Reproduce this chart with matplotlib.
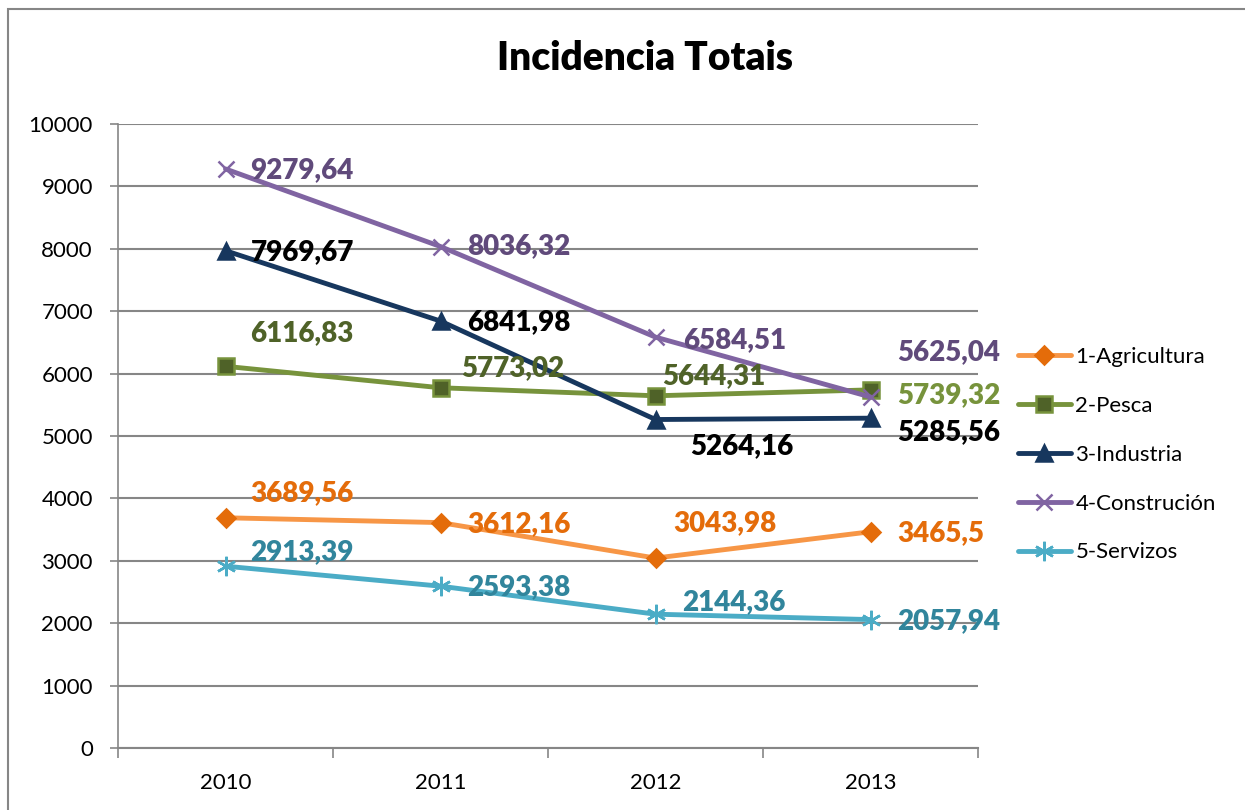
import matplotlib.pyplot as plt
from matplotlib.patches import Rectangle

plt.rcParams['font.family'] = ['Lato', 'DejaVu Sans']

years = ['2010', '2011', '2012', '2013']
agricultura = [3689.56, 3612.16, 3043.98, 3465.5]
pesca = [6116.83, 5773.02, 5644.31, 5739.32]
industria = [7969.67, 6841.98, 5264.16, 5285.56]
construcion = [9279.64, 8036.32, 6584.51, 5625.04]
servizos = [2913.39, 2593.38, 2144.36, 2057.94]

names = ['1-Agricultura', '2-Pesca', '3-Industria', '4-Construción', '5-Servizos']

# line colour, marker, marker face, marker edge, marker size, label colour
styles = [
    ('#F79646', 'D', '#E46C0A', '#E46C0A', 9, '#E46C0A'),
    ('#77933C', 's', '#4F6228', '#77933C', 11, '#4F6228'),
    ('#17375E', '^', '#17375E', '#17375E', 12, '#000000'),
    ('#8064A2', 'x', '#8064A2', '#8064A2', 12, '#604A7B'),
    ('#4BACC6', (6, 2, 0), '#4BACC6', '#4BACC6', 14, '#31859C'),
]

# label offsets in points (dx, dy) per series per year
offsets = [
    [(18, 18), (19, -1), (13, 25), (19, -1)],
    [(18, 24), (15, 14), (5, 14), (19, -4)],
    [(18, -1), (19, -1), (25, -19), (19, -10)],
    [(18, -1), (19, 0), (20, -2), (19, 32)],
    [(18, 10), (19, -1), (19, 9), (19, -1)],
]
label_colors_override = {(1, 3): '#77933C'}

fig = plt.figure(figsize=(12.45, 8.10), dpi=100)
fig.patches.append(Rectangle((8 / 1245, -0.1), 1.1, (810 - 9) / 810 + 0.1,
                             transform=fig.transFigure, fill=False,
                             edgecolor='#868686', linewidth=1.5))
ax = fig.add_axes([118 / 1245, 1 - 748 / 810, 860 / 1245, 624 / 810])

x = range(len(years))
series = [agricultura, pesca, industria, construcion, servizos]
for i, (vals, name, st) in enumerate(zip(series, names, styles)):
    lc, mk, mfc, mec, ms, tc = st
    ax.plot(x, vals, color=lc, linewidth=3.5, marker=mk, markersize=ms,
            markerfacecolor=mfc, markeredgecolor=mec, markeredgewidth=1.8,
            label=name, solid_capstyle='round')
    for j, v in enumerate(vals):
        txt = f'{v:g}'.replace('.', ',')
        col = label_colors_override.get((i, j), tc)
        ax.annotate(txt, (j, v), xytext=offsets[i][j], textcoords='offset points',
                    ha='left', va='center', fontsize=20, fontweight='heavy', color=col)

ax.set_xlim(-0.5, 3.5)
ax.set_ylim(0, 10000)
ax.set_yticks(range(0, 10001, 1000))
ax.set_xticks(list(x))
ax.set_xticklabels(years)
ax.set_xticks([-0.5, 0.5, 1.5, 2.5, 3.5], minor=True)
ax.tick_params(axis='x', which='major', length=0, pad=18, labelsize=16)
ax.tick_params(axis='x', which='minor', length=7, color='#868686', width=1.2)
ax.tick_params(axis='y', length=6, color='#868686', width=1.2, labelsize=16, pad=12)
ax.grid(axis='y', color='#868686', linewidth=1.5)
ax.set_axisbelow(True)
for s in ['top', 'right']:
    ax.spines[s].set_visible(False)
ax.spines['left'].set_color('#868686')
ax.spines['bottom'].set_color('#868686')
ax.spines['left'].set_linewidth(1.2)
ax.spines['bottom'].set_linewidth(1.5)

fig.text(645 / 1245, 1 - 58 / 810, 'Incidencia Totais', ha='center', va='center',
         fontsize=28, fontweight='heavy')

ax.legend(loc='center left', bbox_to_anchor=(1.046, 0.47), frameon=False,
          fontsize=16, labelspacing=1.3, handlelength=2.4, handletextpad=0.2,
          borderaxespad=0, borderpad=0)

fig.savefig('out.png', dpi=100)
